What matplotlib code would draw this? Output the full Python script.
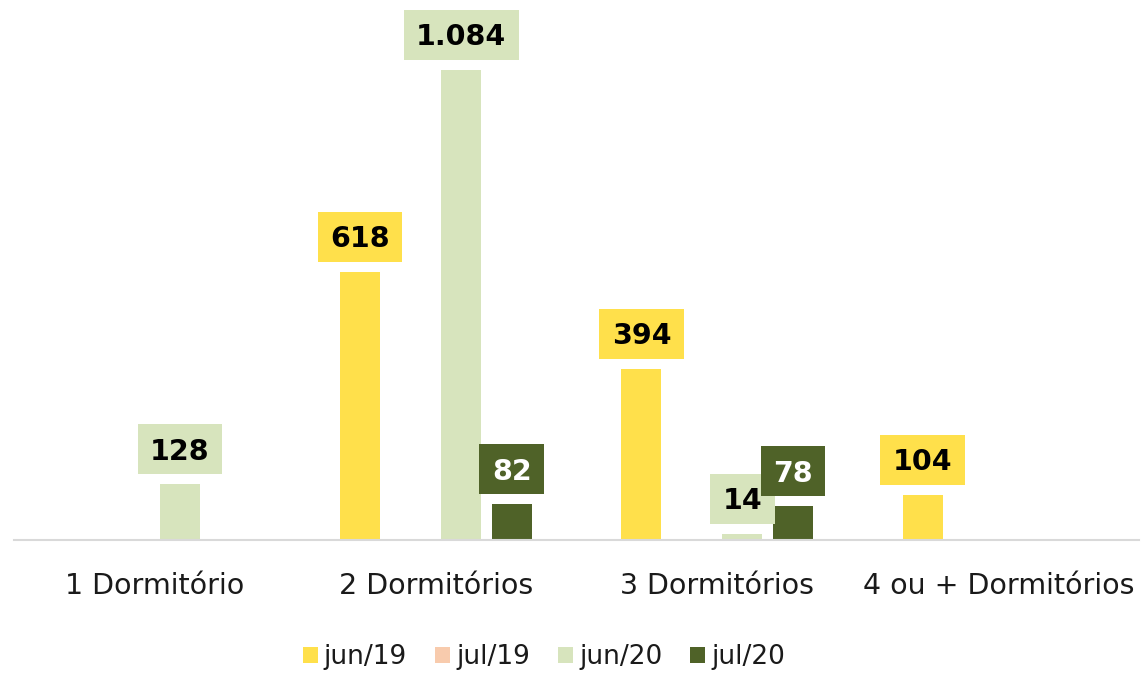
import matplotlib
matplotlib.use("Agg")
import matplotlib.pyplot as plt
import numpy as np
from matplotlib.patches import Patch, Rectangle

categories = ["1 Dormitório", "2 Dormitórios", "3 Dormitórios", "4 ou + Dormitórios"]
series_names = ["jun/19", "jul/19", "jun/20", "jul/20"]
jun19 = [0, 618, 394, 104]
jul19 = [0, 0, 0, 0]
jun20 = [128, 1084, 14, 0]
jul20 = [0, 82, 78, 0]
series_values = [jun19, jul19, jun20, jul20]
colors = ["#FFE04B", "#F8CBAD", "#D7E4BD", "#4F6228"]
label_text_colors = ["#000000", "#000000", "#000000", "#FFFFFF"]

plt.rcParams['font.family'] = ['DejaVu Sans']

W, H = 1145, 675
fig = plt.figure(figsize=(W / 100, H / 100), dpi=100)
ax = fig.add_axes([14 / W, 135 / H, 1125 / W, 540 / H])

x = np.arange(len(categories))
slot = 0.1796
width = 0.142
offsets = [-1.5, -0.5, 0.5, 1.5]

def fmt(v):
    return f"{v:,}".replace(",", ".")

ax.set_xlim(-0.5, 3.5)
ax.set_ylim(0, 1245)

label_specs = []
for vals, col, tcol, off, name in zip(series_values, colors, label_text_colors, offsets, series_names):
    xs = x + off * slot
    ax.bar(xs, vals, width=width, color=col, label=name, zorder=2)
    for xi, v in zip(xs, vals):
        if v != 0:
            label_specs.append((xi, v, col, tcol))

ax.set_yticks([])
ax.set_xticks(x)
ax.set_xticklabels(categories, fontsize=20.5, color="#1a1a1a")
ax.tick_params(axis="x", length=0, pad=23)
for s in ["top", "right", "left"]:
    ax.spines[s].set_visible(False)
ax.spines["bottom"].set_color("#D9D9D9")
ax.spines["bottom"].set_linewidth(1.5)
ax.set_facecolor("none")

# data labels with boxes (in pixel space)
renderer = fig.canvas.get_renderer()
fs = 20.5
cap = 0.729 * fs * 100 / 72
for xi, v, col, tcol in label_specs:
    px, py = ax.transData.transform((xi, v))
    bottom = py + 10
    boxh = 50
    cy = bottom + boxh / 2
    t = fig.text(px / W, (cy - cap / 2) / H, fmt(v), ha="center", va="baseline",
                 fontsize=fs, fontweight="bold", color=tcol, zorder=5)
    tw = t.get_window_extent(renderer).width
    bw = tw + 25
    r = Rectangle(((px - bw / 2) / W, bottom / H), bw / W, boxh / H,
                  transform=fig.transFigure, facecolor=col, edgecolor="none", zorder=4)
    fig.patches.append(r)

handles = [Patch(facecolor=c, edgecolor="none") for c in colors]
lfs = 19
lpx = lfs * 100 / 72
fig.legend(handles, series_names, loc="center", bbox_to_anchor=(544 / W, 1 - 657 / H),
           ncol=4, frameon=False, fontsize=lfs, handlelength=15 / lpx, handleheight=15 / lpx,
           handletextpad=6 / lpx, columnspacing=28 / lpx, labelcolor="#1a1a1a",
           borderpad=0, borderaxespad=0)

fig.savefig("out.png", dpi=100)
